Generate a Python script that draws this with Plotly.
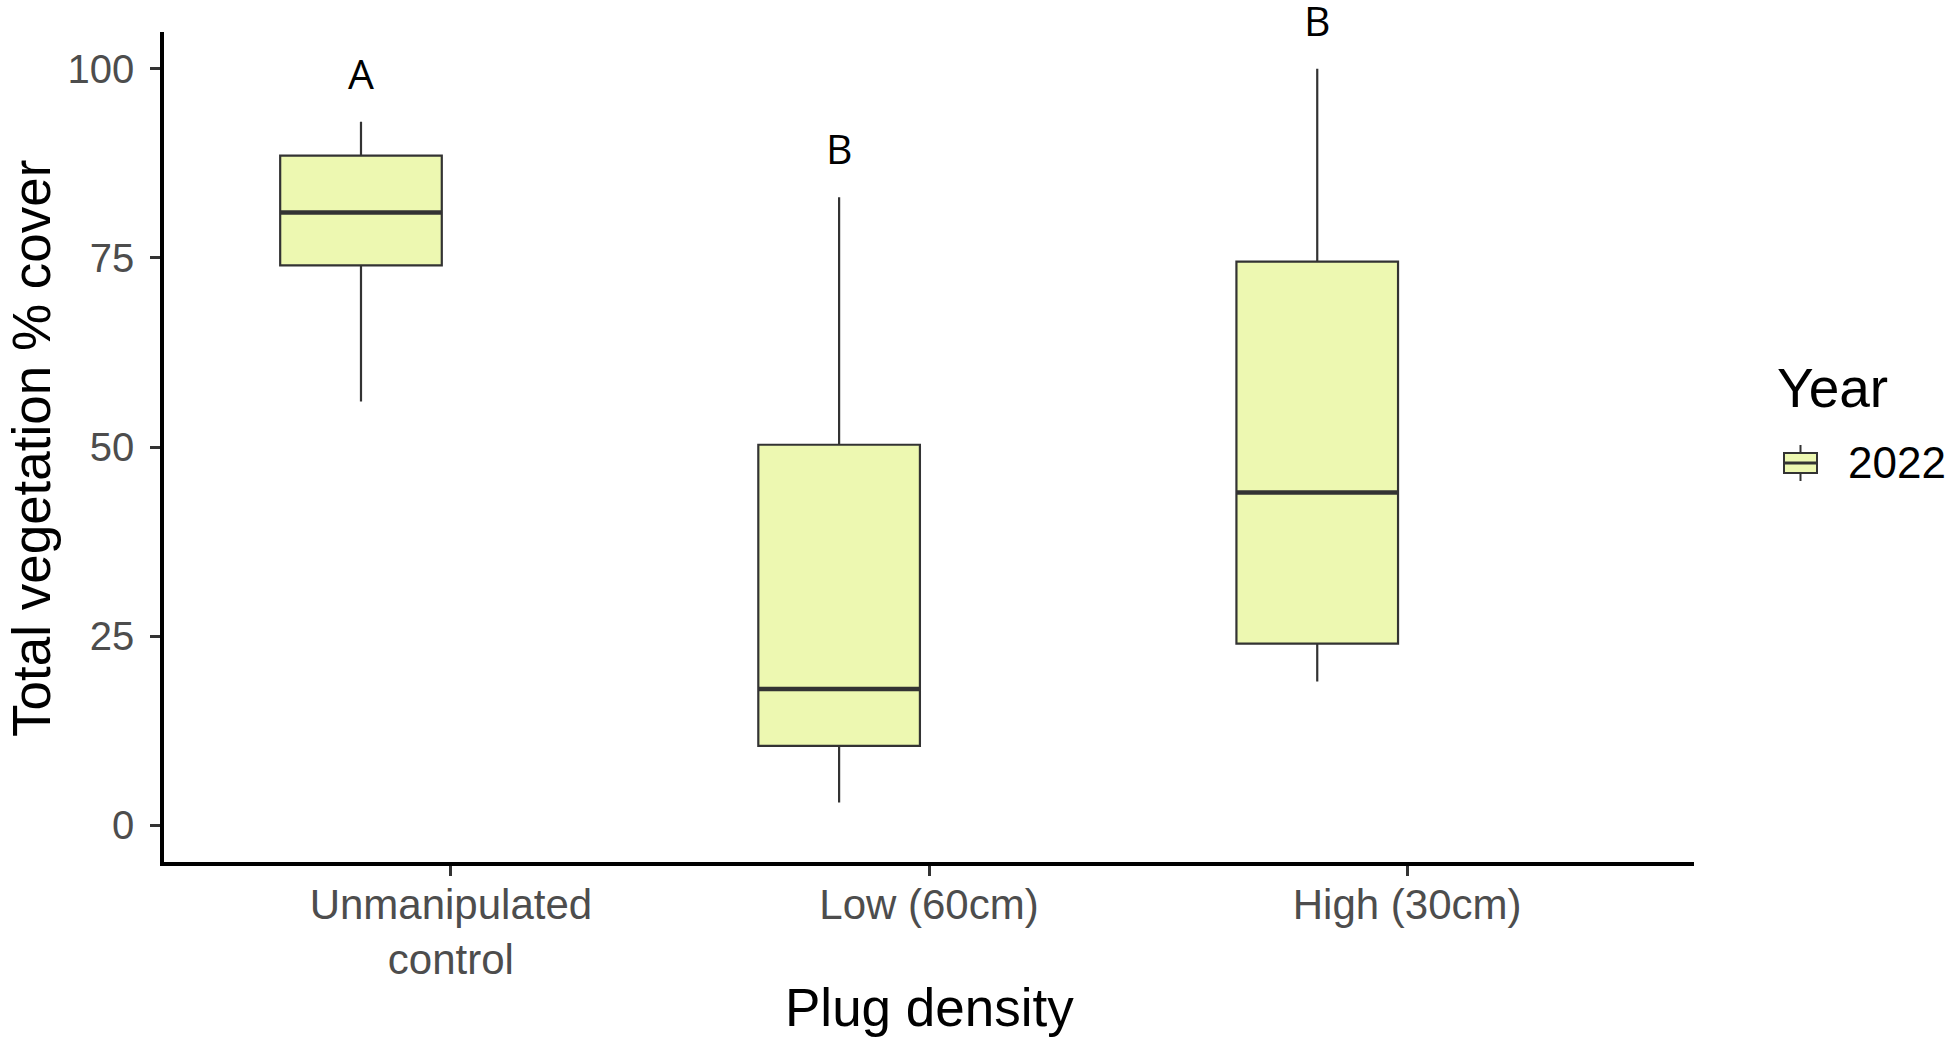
import plotly.graph_objects as go

# ---------------- data ----------------
categories = ["Unmanipulated<br>control", "Low (60cm)", "High (30cm)"]
year_label = "2022"
lower_whisker = [56.0, 3.0, 19.0]
q1_values = [74.0, 10.5, 24.0]
median_values = [81.0, 18.0, 44.0]
q3_values = [88.5, 50.3, 74.5]
upper_whisker = [93.0, 83.0, 100.0]
sig_letters = ["A", "B", "B"]
y_ticks = [0, 25, 50, 75, 100]

# ---------------- style ----------------
FILL = "#EDF8B1"
EDGE = "#333333"
BOX_WIDTH = 0.338
BOX_OFFSET = -0.188
LETTER_SHIFT_PX = 49
W, H = 1949, 1038
ML, MR, MT, MB = 164, 255, 32, 176
PW, PH = W - ML - MR, H - MT - MB
TICK_FONT = dict(family="Liberation Sans, Arial", size=40, color="#4D4D4D")
XTICK_FONT = dict(family="Liberation Sans, Arial", size=42, color="#4D4D4D")
TITLE_FONT = dict(family="Liberation Sans, Arial", size=53, color="black")

positions = [i + BOX_OFFSET for i in range(len(categories))]

fig = go.Figure()
fig.add_trace(go.Box(
    x=positions, q1=q1_values, median=median_values, q3=q3_values,
    lowerfence=lower_whisker, upperfence=upper_whisker,
    width=BOX_WIDTH, whiskerwidth=0, boxpoints=False,
    fillcolor=FILL, line=dict(color=EDGE, width=2.2),
    name=year_label, showlegend=False, hoverinfo="skip",
))

# thick median lines
for p, m in zip(positions, median_values):
    fig.add_trace(go.Scatter(
        x=[p - BOX_WIDTH / 2, p + BOX_WIDTH / 2], y=[m, m], mode="lines",
        line=dict(color=EDGE, width=4.5), showlegend=False, hoverinfo="skip",
    ))

# significance letters, anchored at the upper whisker
for p, u, lab in zip(positions, upper_whisker, sig_letters):
    fig.add_annotation(x=p, y=u, xref="x", yref="y", text=lab, showarrow=False,
                       yshift=LETTER_SHIFT_PX, xanchor="center", yanchor="middle",
                       borderpad=0,
                       font=dict(family="Open Sans", size=41, color="black"))

fig.update_layout(
    width=W, height=H,
    margin=dict(l=ML, r=MR, t=MT, b=MB),
    plot_bgcolor="white", paper_bgcolor="white",
    showlegend=False,
)
fig.update_xaxes(
    range=[-0.6, 2.6], tickvals=list(range(len(categories))), ticktext=categories,
    showline=True, linecolor="black", linewidth=3.5, mirror=False,
    ticks="outside", ticklen=10, tickwidth=2.5, tickcolor=EDGE,
    showgrid=False, zeroline=False, tickfont=XTICK_FONT,
    ticklabelstandoff=-7,
)
fig.update_yaxes(
    range=[-4.85, 104.85], tickvals=y_ticks,
    showline=True, linecolor="black", linewidth=3.5,
    ticks="outside", ticklen=10, tickwidth=2.5, tickcolor=EDGE,
    showgrid=False, zeroline=False, tickfont=TICK_FONT,
    ticklabelstandoff=8,
)

def px_x(px):
    return (px - ML) / PW

def px_y(py):
    return (H - MB - py) / PH

# axis titles
fig.add_annotation(text="Total vegetation % cover", xref="paper", yref="paper",
                   x=px_x(31), y=px_y(449), textangle=-90, showarrow=False,
                   xanchor="center", yanchor="middle", borderpad=0, font=TITLE_FONT)
fig.add_annotation(text="Plug density", xref="paper", yref="paper",
                   x=px_x(929), y=px_y(1008), showarrow=False,
                   xanchor="center", yanchor="middle", font=TITLE_FONT)

# custom legend
fig.add_annotation(text="Year", xref="paper", yref="paper",
                   x=px_x(1775), y=px_y(388), showarrow=False,
                   xanchor="left", yanchor="middle",
                   font=dict(family="Liberation Sans, Arial", size=55, color="black"))
fig.add_annotation(text=year_label, xref="paper", yref="paper",
                   x=px_x(1846), y=px_y(463), showarrow=False,
                   xanchor="left", yanchor="middle",
                   font=dict(family="Liberation Sans, Arial", size=44, color="black"))
kx0, kx1, kxc = 1784, 1817, 1800.5
fig.add_shape(type="line", xref="paper", yref="paper",
              x0=px_x(kxc), x1=px_x(kxc), y0=px_y(445), y1=px_y(481),
              line=dict(color=EDGE, width=2))
fig.add_shape(type="rect", xref="paper", yref="paper",
              x0=px_x(kx0), x1=px_x(kx1), y0=px_y(453), y1=px_y(473),
              fillcolor=FILL, line=dict(color=EDGE, width=2))
fig.add_shape(type="line", xref="paper", yref="paper",
              x0=px_x(kx0), x1=px_x(kx1), y0=px_y(463), y1=px_y(463),
              line=dict(color=EDGE, width=3))

fig.write_html("out.html")
